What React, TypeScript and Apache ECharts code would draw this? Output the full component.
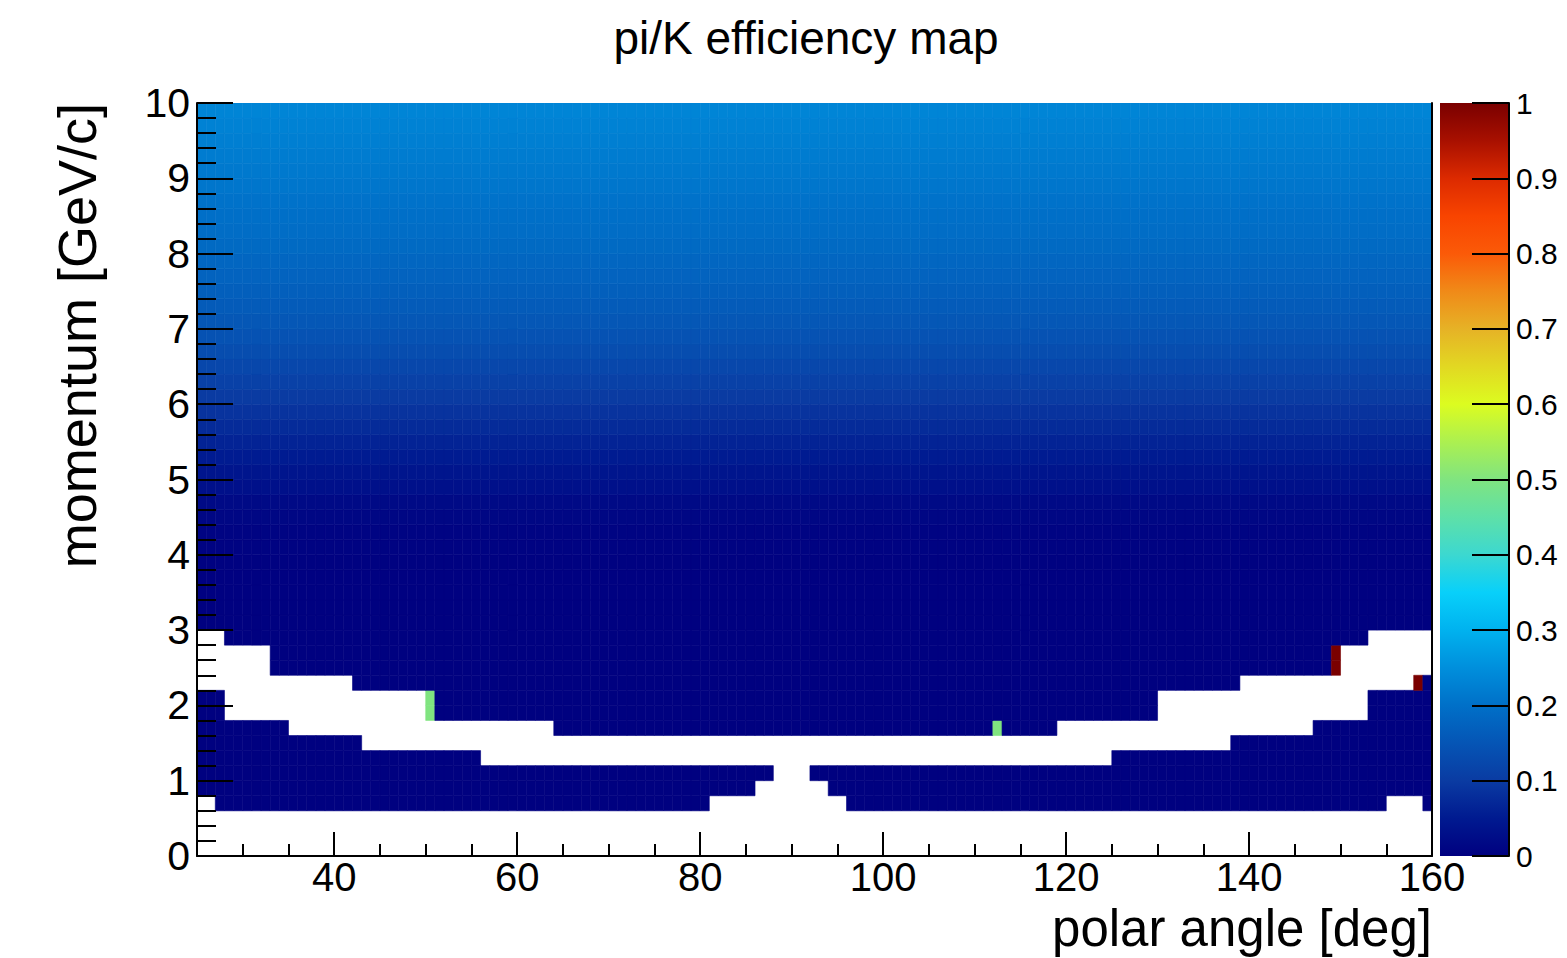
import React, { useEffect, useRef } from "react";
import * as echarts from "echarts";

const CHART_TITLE = "pi/K efficiency map";
const X_AXIS_NAME = "polar angle [deg]";
const Y_AXIS_NAME = "momentum [GeV/c]";

// binning of the 2D histogram
const THETA_RANGE = [25, 160];
const THETA_BIN = 1;
const P_RANGE = [0, 10];
const P_BIN = 0.2;

// axis ticks
const X_MAJOR_TICKS = [40, 60, 80, 100, 120, 140, 160];
const X_MINOR_INTERVAL = 5;
const Y_TICK_INTERVAL = 1;
const Z_TICK_INTERVAL = 0.1;

// efficiency per momentum row (row 0 = 0-0.2 GeV/c ... row 49 = 9.8-10 GeV/c)
const ROW_EFFICIENCY = [
  0, 0, 0, 0.001, 0.001, 0.001, 0.001, 0.001, 0.001, 0.001,
  0.001, 0.001, 0.001, 0.001, 0.001, 0.001, 0.001, 0.002, 0.002, 0.003,
  0.005, 0.008, 0.013, 0.02, 0.03, 0.04, 0.052, 0.064, 0.076, 0.088,
  0.1, 0.112, 0.123, 0.134, 0.144, 0.153, 0.161, 0.168, 0.175, 0.182,
  0.188, 0.194, 0.199, 0.204, 0.209, 0.214, 0.219, 0.224, 0.229, 0.234,
];

// empty bins: [row, thetaFrom, thetaTo)
const EMPTY_BINS: [number, number, number][] = [
  [0, 25, 160], [1, 25, 160], [2, 25, 160],
  [3, 25, 27], [3, 81, 96], [3, 155, 159],
  [4, 86, 94],
  [5, 88, 92],
  [6, 56, 125],
  [7, 43, 138],
  [8, 35, 64], [8, 119, 147],
  [9, 28, 50], [9, 130, 153],
  [10, 28, 50], [10, 130, 153],
  [11, 25, 42], [11, 139, 158],
  [12, 25, 33], [12, 150, 160],
  [13, 25, 33], [13, 150, 160],
  [14, 25, 28], [14, 153, 160],
];

// isolated bins with a different efficiency: [theta, row, efficiency]
const SPECIAL_BINS: [number, number, number][] = [
  [50, 9, 0.5], [50, 10, 0.5], [112, 8, 0.5],
  [149, 12, 1], [149, 13, 1], [158, 11, 1],
];

// colour palette from 0 to 1 in steps of 0.05
const PALETTE = [
  "#000080", "#001a90", "#0a3ba2", "#0555b5", "#0070c8", "#008fdc", "#00b2ef",
  "#08d0fa", "#3cd8d0", "#5ee0a8", "#80e480", "#acf050", "#dcfc20", "#e2d822",
  "#e6b226", "#f08a18", "#fb5a08", "#f84400", "#dc2a00", "#a81000", "#7a0000",
];

const FONT = "'Liberation Sans', Arial, Helvetica, sans-serif";

function buildCells() {
  const cells: number[][] = [];
  const nTheta = Math.round((THETA_RANGE[1] - THETA_RANGE[0]) / THETA_BIN);
  for (let r = 0; r < ROW_EFFICIENCY.length; r++) {
    for (let i = 0; i < nTheta; i++) {
      const t = THETA_RANGE[0] + i * THETA_BIN;
      if (EMPTY_BINS.some(([row, a, b]) => row === r && t >= a && t < b)) continue;
      const sp = SPECIAL_BINS.find(([st, sr]) => st === t && sr === r);
      cells.push([t, +(r * P_BIN).toFixed(1), sp ? sp[2] : ROW_EFFICIENCY[r]]);
    }
  }
  return cells;
}

export default function App() {
  const ref = useRef<HTMLDivElement>(null);
  useEffect(() => {
    if (!ref.current) return;
    const chart = echarts.init(ref.current, undefined, { renderer: "svg" });
    const cells = buildCells();
    const black = "#000";
    const option: any = {
      animation: false,
      backgroundColor: "#fff",
      textStyle: { fontFamily: FONT, color: black },
      title: {
        text: CHART_TITLE,
        left: 801,
        top: 10,
        textAlign: "center",
        textStyle: { fontFamily: FONT, fontSize: 46, fontWeight: "normal", color: black },
      },
      grid: [
        { left: 197, top: 103, width: 1235, height: 753 },
        { left: 1440, top: 103, width: 69, height: 753 },
      ],
      visualMap: {
        type: "continuous",
        show: false,
        min: 0,
        max: 1,
        dimension: 2,
        seriesIndex: 0,
        inRange: { color: PALETTE },
      },
      xAxis: [
        {
          type: "value",
          gridIndex: 0,
          position: "bottom",
          min: THETA_RANGE[0],
          max: THETA_RANGE[1],
          interval: X_MINOR_INTERVAL,
          z: 10,
          name: X_AXIS_NAME,
          nameLocation: "end",
          nameGap: 0,
          nameMoveOverlap: false,
          nameTextStyle: {
            fontFamily: FONT,
            fontSize: 51,
            lineHeight: 51,
            color: black,
            align: "right",
            verticalAlign: "top",
            padding: [47, 0, 0, 0],
          },
          axisLine: { show: true, onZero: false, lineStyle: { color: black, width: 2 } },
          axisTick: { show: true, inside: true, length: 12, lineStyle: { color: black, width: 2 } },
          axisLabel: {
            show: true,
            margin: 1,
            fontSize: 40,
            lineHeight: 40,
            color: black,
            fontFamily: FONT,
            formatter: (v: number) => (X_MAJOR_TICKS.includes(v) ? String(v) : ""),
          },
          splitLine: { show: false },
        },
        {
          type: "value",
          gridIndex: 0,
          position: "bottom",
          min: THETA_RANGE[0],
          max: THETA_RANGE[1],
          z: 10,
          axisLine: { show: false },
          axisTick: {
            show: true,
            inside: true,
            length: 24,
            customValues: X_MAJOR_TICKS,
            lineStyle: { color: black, width: 2 },
          },
          axisLabel: { show: false },
          splitLine: { show: false },
        },
        { type: "value", gridIndex: 1, min: 0, max: 1, show: false },
      ],
      yAxis: [
        {
          type: "value",
          gridIndex: 0,
          position: "left",
          min: P_RANGE[0],
          max: P_RANGE[1],
          interval: Y_TICK_INTERVAL,
          z: 10,
          name: Y_AXIS_NAME,
          nameLocation: "end",
          nameGap: 0,
          nameRotate: 90,
          nameMoveOverlap: false,
          nameTextStyle: {
            fontFamily: FONT,
            fontSize: 54,
            color: black,
            align: "right",
            verticalAlign: "bottom",
            padding: [0, 0, 93, 0],
          },
          axisLine: { show: true, onZero: false, lineStyle: { color: black, width: 2 } },
          axisTick: { show: true, inside: true, length: 36, lineStyle: { color: black, width: 2 } },
          minorTick: { show: true, splitNumber: 5, length: 19, lineStyle: { color: black, width: 2 } },
          axisLabel: { show: true, margin: 7, fontSize: 41, color: black, fontFamily: FONT },
          splitLine: { show: false },
        },
        {
          type: "value",
          gridIndex: 0,
          position: "right",
          min: P_RANGE[0],
          max: P_RANGE[1],
          z: 10,
          axisLine: { show: true, onZero: false, lineStyle: { color: black, width: 2 } },
          axisTick: { show: false },
          axisLabel: { show: false },
          splitLine: { show: false },
        },
        {
          type: "value",
          gridIndex: 1,
          position: "right",
          min: 0,
          max: 1,
          interval: Z_TICK_INTERVAL,
          z: 10,
          axisLine: { show: true, onZero: false, lineStyle: { color: black, width: 2 } },
          axisTick: { show: true, inside: true, length: 37, lineStyle: { color: black, width: 2 } },
          axisLabel: {
            show: true,
            margin: 7,
            fontSize: 30,
            color: black,
            fontFamily: FONT,
            formatter: (v: number) => String(Math.round(v * 10) / 10),
          },
          splitLine: { show: false },
        },
      ],
      series: [
        {
          type: "custom",
          name: "efficiency",
          xAxisIndex: 0,
          yAxisIndex: 0,
          progressive: 0,
          clip: true,
          encode: { x: 0, y: 1 },
          data: cells,
          renderItem: (params: any, api: any) => {
            const x0 = api.value(0);
            const y0 = api.value(1);
            const a = api.coord([x0, y0]);
            const b = api.coord([x0 + THETA_BIN, y0 + P_BIN]);
            const c = api.visual("color");
            return {
              type: "rect",
              shape: { x: a[0], y: b[1], width: b[0] - a[0], height: a[1] - b[1] },
              style: { fill: c, stroke: c, lineWidth: 0.6 },
            };
          },
        },
        {
          type: "custom",
          name: "palette",
          xAxisIndex: 2,
          yAxisIndex: 2,
          data: [[0, 0]],
          renderItem: (params: any, api: any) => {
            const a = api.coord([0, 0]);
            const b = api.coord([1, 1]);
            return {
              type: "rect",
              shape: { x: a[0], y: b[1], width: b[0] - a[0], height: a[1] - b[1] },
              style: {
                fill: new echarts.graphic.LinearGradient(
                  0, 1, 0, 0,
                  PALETTE.map((color, i) => ({ offset: i / (PALETTE.length - 1), color }))
                ),
              },
            };
          },
        },
      ],
    };
    chart.setOption(option);
    return () => chart.dispose();
  }, []);
  return (
    <div
      ref={ref}
      style={{ position: "absolute", left: 0, top: 0, width: 1567, height: 958, background: "#fff" }}
    />
  );
}
